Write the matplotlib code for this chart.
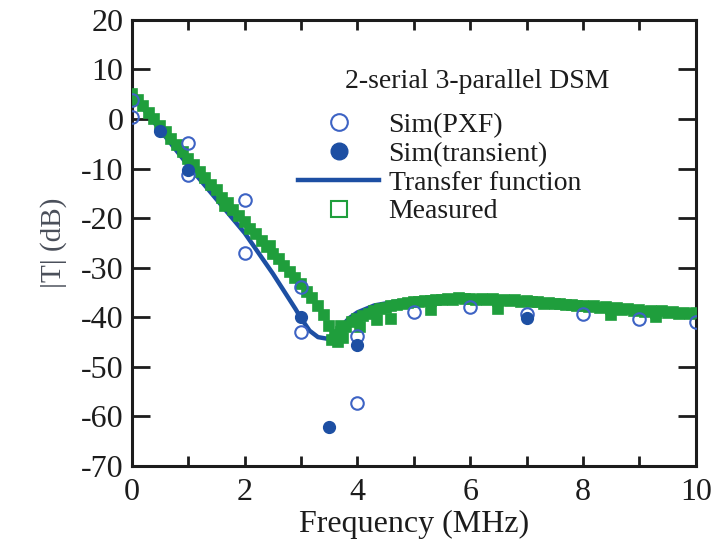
import numpy as np
import matplotlib
matplotlib.use("Agg")
import matplotlib.pyplot as plt
from matplotlib.lines import Line2D
from matplotlib.ticker import MultipleLocator

plt.rcParams["font.family"] = ["Liberation Serif", "DejaVu Serif"]
plt.rcParams["axes.unicode_minus"] = False

# Sim(PXF) - open circles
pxf_f  = [0, 0, 1, 1, 2, 2, 3, 3, 4, 4, 5, 6, 7, 8, 9, 10]
pxf_db = [3.9, 0.5, -4.8, -11.2, -16.3, -27.0, -33.9, -43.0, -43.8, -57.3,
          -38.9, -37.9, -39.4, -39.4, -40.4, -41.0]

# Sim(transient) - filled circles
tr_f  = [0.5, 1, 3, 3.5, 4, 7]
tr_db = [-2.5, -10.2, -40.0, -62.1, -45.5, -40.1]

# Transfer function - solid line
tf_f  = [0, 0.5, 1, 1.5, 2, 2.5, 2.9, 3.0, 3.15, 3.3, 3.45, 3.6, 3.7, 3.85,
         4.0, 4.3, 4.7, 5.2, 6, 7, 8, 9, 10]
tf_db = [5.0, -2.2, -9.4, -16.2, -23.0, -31.2, -38.3, -40.2, -42.7, -44.0,
         -44.3, -43.4, -42.0, -40.2, -39.0, -37.6, -36.8, -36.2, -35.9,
         -36.4, -37.2, -38.1, -39.0]

# Measured - squares, 0.1 MHz sweep
meas_f = [round(k * 0.1, 1) for k in range(101)]
meas_db = [5.0, 3.8, 2.6, 1.2, 0.0, -1.4, -2.6, -4.0, -5.3, -6.6,
           -8.0, -9.2, -10.6, -11.8, -13.3, -14.4, -15.9, -17.0, -18.4, -19.5,
           -20.7, -22.1, -23.2, -24.7, -25.8, -27.2, -28.3, -29.6, -30.9, -32.0,
           -33.3, -34.8, -36.2, -37.8, -39.6, -41.8, -43.6, -43.0, -41.9, -41.0,
           -40.4, -39.7, -39.3, -38.8, -38.4, -38.1, -37.7, -37.6, -37.3, -37.2,
           -37.0, -36.9, -36.7, -36.8, -36.5, -36.6, -36.4, -36.5, -36.2, -36.4,
           -36.3, -36.5, -36.3, -36.6, -36.4, -36.7, -36.5, -36.8, -36.6, -36.9,
           -36.8, -37.0, -36.9, -37.3, -37.1, -37.4, -37.3, -37.6, -37.5, -37.8,
           -37.7, -38.0, -37.8, -38.2, -38.0, -38.4, -38.2, -38.6, -38.4, -38.8,
           -38.6, -38.9, -38.7, -39.1, -38.8, -39.2, -39.0, -39.3, -39.1, -39.4,
           -39.2]
# a few scattered measured points around the notch and plateau
meas_xf  = [3.55, 3.65, 3.75, 3.7, 4.05, 4.35, 4.6, 5.3, 6.5, 8.5, 9.3, 1.65, 2.45]
meas_xdb = [-44.6, -44.9, -44.2, -41.8, -42.0, -40.6, -40.3, -38.5, -38.4, -39.6, -40.0, -17.6, -25.6]

blue = "#1d4fa3"
blue_open = "#3d63c4"
green = "#1f9e3c"
ink = "#1c1c1c"

fig = plt.figure(figsize=(7.21, 5.44), dpi=100)
ax = fig.add_axes([0.183, 0.1434, 0.782, 0.82])

ax.plot(tf_f, tf_db, "-", color=blue, lw=3.2, zorder=3)
ax.plot(meas_f + meas_xf, meas_db + meas_xdb, "s", color=green, mfc=green,
        mec=green, ms=6.5, mew=1.2, ls="none", zorder=4)
ax.plot(pxf_f, pxf_db, "o", mfc="none", mec=blue_open, ms=9, mew=1.5,
        ls="none", zorder=5)
ax.plot(tr_f, tr_db, "o", color=blue, ms=8.5, ls="none", zorder=5)

ax.set_xlim(0, 10)
ax.set_ylim(-70, 20)
ax.xaxis.set_major_locator(MultipleLocator(2))
ax.xaxis.set_minor_locator(MultipleLocator(1))
ax.yaxis.set_major_locator(MultipleLocator(10))

ax.tick_params(which="both", direction="in", top=True, right=True,
               width=2, color=ink, labelsize=23, labelcolor=ink)
ax.tick_params(axis="y", which="major", length=13, pad=6)
ax.tick_params(axis="x", which="both", length=7, pad=9)
for s in ax.spines.values():
    s.set_linewidth(2.2)
    s.set_color(ink)

ax.set_xlabel("Frequency (MHz)", fontsize=23, color=ink, labelpad=2)
ax.set_ylabel("|T| (dB)", fontsize=21, color="#4a4f5a", labelpad=10)

ax.text(0.613, 0.862, "2-serial 3-parallel DSM", transform=ax.transAxes,
        ha="center", va="center", fontsize=20, color=ink)

handles = [
    Line2D([], [], ls="none", marker="o", mfc="none", mec=blue_open, ms=12, mew=1.5),
    Line2D([], [], ls="none", marker="o", color=blue, ms=12),
    Line2D([], [], color=blue, lw=3.2),
    Line2D([], [], ls="none", marker="s", mfc="none", mec=green, ms=12, mew=1.5),
]
labels = ["Sim(PXF)", "Sim(transient)", "Transfer function", "Measured"]
leg = ax.legend(handles, labels, loc="upper left", bbox_to_anchor=(0.295, 0.792),
                frameon=False, fontsize=20, handlelength=2.9,
                handletextpad=0.35, labelspacing=0.12, borderpad=0.0,
                borderaxespad=0.0)
for t in leg.get_texts():
    t.set_color(ink)

fig.savefig("out.png", dpi=100)
